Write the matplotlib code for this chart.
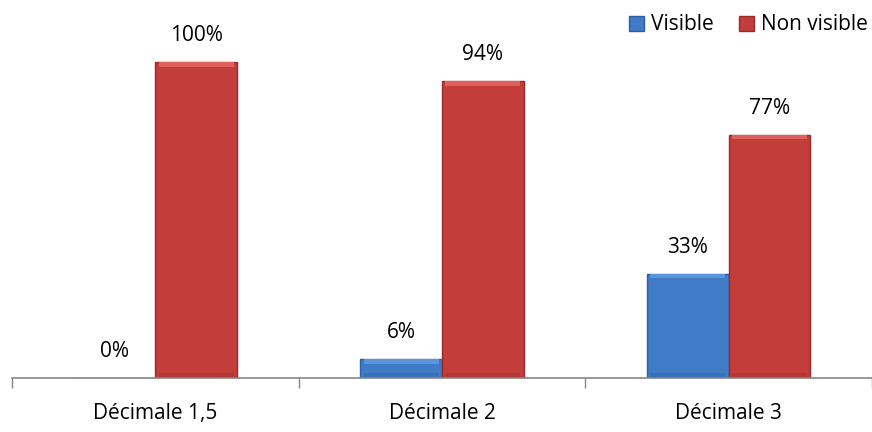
import matplotlib.pyplot as plt
import numpy as np

categories = ['Décimale 1,5', 'Décimale 2', 'Décimale 3']
visible = [0, 6, 33]
non_visible = [100, 94, 77]
series_names = ['Visible', 'Non visible']

plt.rcParams['font.family'] = ['Open Sans', 'DejaVu Sans']

fig = plt.figure(figsize=(8.72, 4.32), dpi=100)
ax = fig.add_axes([12 / 872, 54 / 432, 860 / 872, 358 / 432])

unit = 289  # pixels per category
x = np.arange(len(categories))
w = 0.285
blue, blue_lt, blue_dk = '#3f7bc6', '#5b95dc', '#2f5f9e'
red, red_lt, red_dk = '#c33d3a', '#e0605c', '#962c2a'

b1 = ax.bar(x - w / 2, visible, w, color=blue, edgecolor=blue_dk, linewidth=1.0, label=series_names[0])
b2 = ax.bar(x + w / 2, non_visible, w, color=red, edgecolor=red_dk, linewidth=1.0, label=series_names[1])

# bevel look: lighter top band, darker bottom band
for bars, lt, dk in [(b1, blue_lt, blue_dk), (b2, red_lt, red_dk)]:
    for r in bars:
        h = r.get_height()
        if h > 0:
            band = min(1.5, h * 0.3)
            cx = r.get_x() + r.get_width() / 2
            ax.bar(cx, band, r.get_width() * 0.92, bottom=h - band, color=lt, linewidth=0)
            ax.bar(cx, band, r.get_width() * 0.92, bottom=0, color=dk, alpha=0.35, linewidth=0)

for bars, vals in [(b1, visible), (b2, non_visible)]:
    for r, v in zip(bars, vals):
        ax.annotate(f'{v}%', (r.get_x() + r.get_width() / 2, v),
                    xytext=(0, 19), textcoords='offset points',
                    ha='center', va='center', fontsize=15)

ax.set_xlim(-0.5, -0.5 + 860 / unit)
ax.set_ylim(0, 358 / 316 * 100)
ax.set_xticks([-0.5, 0.5, 1.5, 2.5])
ax.set_xticklabels([])
ax.set_xticks(x, minor=True)
ax.set_xticklabels(categories, minor=True, fontsize=15)
ax.tick_params(axis='x', which='major', length=7, width=1, color='#868686', direction='out')
ax.tick_params(axis='x', which='minor', length=0, pad=18)
ax.set_yticks([])
for s in ['top', 'right', 'left']:
    ax.spines[s].set_visible(False)
ax.spines['bottom'].set_color('#868686')
ax.spines['bottom'].set_linewidth(1.2)

fig.legend(handles=[b1, b2], loc='center right', bbox_to_anchor=(868 / 872, 1 - 25 / 432),
           ncol=2, frameon=False, fontsize=15, handlelength=0.72, handleheight=0.72,
           handletextpad=0.34, columnspacing=1.2, borderaxespad=0, borderpad=0)

fig.savefig('out.png', dpi=100)
